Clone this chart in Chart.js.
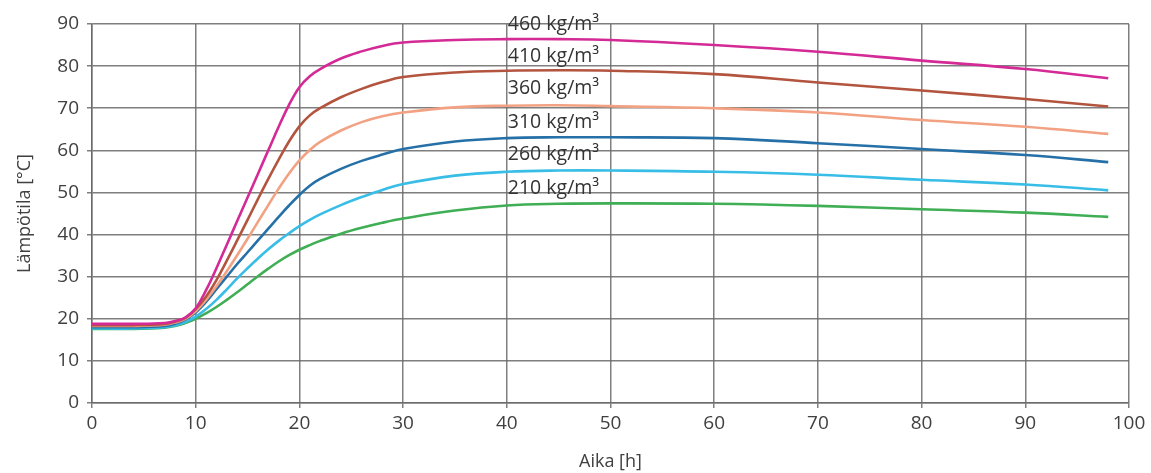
<!DOCTYPE html>
<html>
<head>
<meta charset="utf-8">
<script src="https://cdn.jsdelivr.net/npm/chart.js@4/dist/chart.umd.min.js"></script>
<style>
  html, body { margin: 0; padding: 0; background: #fff; }
  #wrap { width: 1151px; height: 473px; }
</style>
</head>
<body>
<div id="wrap"><canvas id="tempChart" width="1151" height="473"></canvas></div>
<script>
// Time points [h]
const hours = [0, 4, 7, 8, 9, 10, 11, 12, 13, 14, 15, 16, 17, 18, 19, 20, 21, 22, 24, 26, 28, 30, 35, 40, 45, 50, 60, 70, 80, 90, 98];

// Temperatures [°C] per density
const temp460 = [18.8, 18.8, 19, 19.5, 20.3, 22.5, 26.8, 32, 37.6, 43.2, 48.8, 54.4, 60, 65.6, 70.8, 75, 77.6, 79.3, 81.8, 83.5, 84.8, 85.6, 86.2, 86.4, 86.4, 86.2, 85, 83.4, 81.3, 79.3, 77.1];
const temp410 = [18.5, 18.5, 18.8, 19.3, 20.2, 22.3, 25.3, 29.2, 33.8, 38.6, 43.5, 48.4, 53.2, 57.8, 62.1, 65.7, 68.3, 70, 72.6, 74.6, 76.2, 77.4, 78.5, 78.9, 79, 78.9, 78.1, 76.1, 74.2, 72.2, 70.4];
const temp360 = [18.3, 18.3, 18.6, 19.1, 20, 21.8, 24.5, 27.7, 31.3, 35.1, 39, 43, 47, 50.9, 54.5, 57.6, 60.1, 62, 64.7, 66.7, 68.1, 69, 70.2, 70.6, 70.7, 70.5, 70, 69, 67.2, 65.6, 63.9];
const temp310 = [18, 18, 18.3, 18.8, 19.8, 21.5, 24, 27, 30, 33, 35.8, 38.6, 41.4, 44.2, 46.9, 49.4, 51.6, 53.2, 55.6, 57.5, 59, 60.3, 62.1, 62.9, 63.1, 63.1, 62.9, 61.7, 60.3, 58.9, 57.2];
const temp260 = [17.7, 17.7, 18, 18.4, 19.2, 20.5, 22.3, 24.5, 27, 29.6, 32, 34.3, 36.5, 38.5, 40.3, 42, 43.5, 44.8, 47, 48.9, 50.6, 52, 54, 54.9, 55.2, 55.2, 54.9, 54.2, 53, 51.9, 50.5];
const temp210 = [17.6, 17.6, 17.9, 18.3, 19, 20, 21.3, 22.8, 24.5, 26.3, 28.2, 30.1, 31.9, 33.6, 35.1, 36.4, 37.5, 38.5, 40.2, 41.6, 42.8, 43.8, 45.7, 46.9, 47.3, 47.4, 47.3, 46.8, 46, 45.2, 44.2];

const seriesLabels = ['460 kg/m³', '410 kg/m³', '360 kg/m³', '310 kg/m³', '260 kg/m³', '210 kg/m³'];
const xTicks = [0, 10, 20, 30, 40, 50, 60, 70, 80, 90, 100];
const yTicks = [0, 10, 20, 30, 40, 50, 60, 70, 80, 90];

const colors = ['#d42a96', '#b3543f', '#f2a283', '#2670a8', '#38bde6', '#3fae55'];
const allTemps = [temp460, temp410, temp360, temp310, temp260, temp210];

const gridColor = 'rgba(105,105,105,0.85)';
const fontFamily = "'Open Sans', 'DejaVu Sans', sans-serif";

// Text labels stacked at x = 40 h, in data units
const labelPlugin = {
  id: 'densityLabels',
  afterDatasetsDraw(chart) {
    const { ctx, scales } = chart;
    const yAt = [89.8, 82.4, 74.8, 66.7, 59.1, 51.0];
    ctx.save();
    ctx.font = '19.5px ' + fontFamily;
    ctx.fillStyle = '#333';
    ctx.textAlign = 'left';
    ctx.textBaseline = 'middle';
    seriesLabels.forEach((txt, i) => {
      ctx.fillText(txt, scales.x.getPixelForValue(40) + 1, scales.y.getPixelForValue(yAt[i]));
    });
    ctx.restore();
  }
};

new Chart(document.getElementById('tempChart'), {
  type: 'line',
  data: {
    datasets: allTemps.map((temps, i) => ({
      label: seriesLabels[i],
      data: hours.map((h, j) => ({ x: h, y: temps[j] })),
      borderColor: colors[i],
      borderWidth: 2.6,
      pointRadius: 0,
      fill: false,
      tension: 0.4
    }))
  },
  options: {
    responsive: false,
    animation: false,
    layout: { padding: { top: 24, right: 22, left: 0, bottom: 0 } },
    plugins: {
      legend: { display: false },
      tooltip: { enabled: false }
    },
    scales: {
      x: {
        type: 'linear',
        min: 0,
        max: 100,
        afterBuildTicks: (scale) => { scale.ticks = xTicks.map(v => ({ value: v })); },
        afterFit: (scale) => { scale.height = 70; },
        grid: { color: gridColor, lineWidth: 1.5, tickLength: 5 },
        border: { color: gridColor, width: 1.5 },
        ticks: { color: '#404040', font: { family: fontFamily, size: 19 }, padding: 4 },
        title: {
          display: true,
          text: 'Aika [h]',
          color: '#404040',
          font: { family: fontFamily, size: 18 },
          padding: { top: 0, bottom: 0 }
        }
      },
      y: {
        min: 0,
        max: 90,
        afterBuildTicks: (scale) => { scale.ticks = yTicks.map(v => ({ value: v })); },
        afterFit: (scale) => { scale.width = 92; },
        grid: { color: gridColor, lineWidth: 1.5, tickLength: 5 },
        border: { color: gridColor, width: 1.5 },
        ticks: { color: '#404040', font: { family: fontFamily, size: 19 }, padding: 8 },
        title: {
          display: true,
          text: 'Lämpötila [°C]',
          color: '#404040',
          font: { family: fontFamily, size: 18 },
          padding: { top: 14, bottom: 0 }
        }
      }
    }
  },
  plugins: [labelPlugin]
});
</script>
</body>
</html>
